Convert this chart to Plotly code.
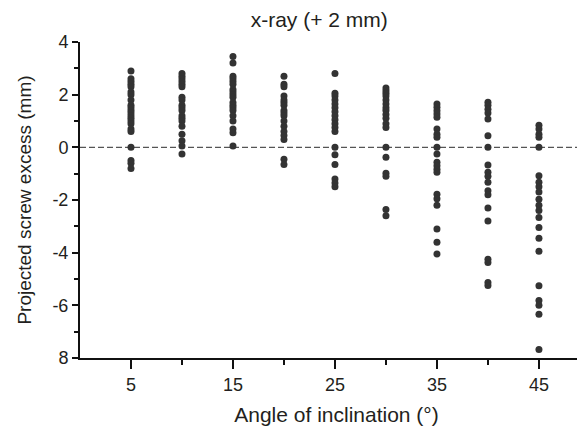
import plotly.graph_objects as go

angles = [5, 10, 15, 20, 25, 30, 35, 40, 45]

excess_5 = [2.9, 2.6, 2.5, 2.4, 2.3, 2.1, 2.0, 1.8, 1.6, 1.5, 1.4, 1.3, 1.2, 1.1, 1.0, 0.9, 0.7, 0.6, 0.0, -0.5, -0.6, -0.8]
excess_10 = [2.8, 2.7, 2.6, 2.5, 2.4, 2.3, 1.9, 1.8, 1.6, 1.5, 1.4, 1.2, 1.1, 1.0, 0.8, 0.5, 0.25, 0.05, -0.25]
excess_15 = [3.45, 3.2, 2.7, 2.6, 2.5, 2.4, 2.2, 2.1, 2.0, 1.9, 1.7, 1.6, 1.5, 1.4, 1.2, 1.0, 0.7, 0.55, 0.05]
excess_20 = [2.7, 2.4, 2.3, 1.95, 1.8, 1.7, 1.6, 1.4, 1.3, 1.2, 1.0, 0.8, 0.6, 0.45, 0.3, -0.45, -0.65]
excess_25 = [2.8, 2.05, 1.95, 1.8, 1.65, 1.5, 1.35, 1.2, 1.05, 0.9, 0.75, 0.6, 0.0, -0.28, -0.65, -1.2, -1.35, -1.5]
excess_30 = [2.25, 2.15, 2.05, 1.95, 1.8, 1.65, 1.5, 1.4, 1.25, 1.1, 0.9, 0.75, 0.0, -0.38, -0.98, -1.1, -2.36, -2.6]
excess_35 = [1.65, 1.52, 1.39, 1.27, 1.14, 0.7, 0.5, 0.38, 0.0, -0.25, -0.57, -0.7, -0.83, -0.95, -1.78, -1.95, -2.2, -3.1, -3.6, -4.05]
excess_40 = [1.71, 1.6, 1.45, 1.3, 1.08, 0.44, 0.0, -0.67, -0.95, -1.1, -1.33, -1.65, -1.8, -2.3, -2.8, -4.25, -4.37, -5.13, -5.25]
excess_45 = [0.84, 0.7, 0.5, 0.38, 0.0, -1.08, -1.33, -1.5, -1.7, -1.97, -2.2, -2.4, -2.66, -3.04, -3.45, -3.95, -5.26, -5.82, -6.0, -6.34, -7.68]

series = [excess_5, excess_10, excess_15, excess_20, excess_25, excess_30, excess_35, excess_40, excess_45]

x_tickvals = [5, 15, 25, 35, 45]
x_ticktext = ["5", "15", "25", "35", "45"]
x_minor = [10, 20, 30, 40]
y_tickvals = [4, 2, 0, -2, -4, -6, -8]
y_ticktext = ["4", "2", "0", "-2", "-4", "-6", "8"]
y_minor = [3, 1, -1, -3, -5, -7]

xs, ys = [], []
for a, vals in zip(angles, series):
    xs += [a] * len(vals)
    ys += vals

fig = go.Figure()
fig.add_trace(go.Scatter(
    x=xs, y=ys, mode="markers",
    marker=dict(size=7, color="#333333", line=dict(width=0)),
    showlegend=False, hoverinfo="skip", cliponaxis=False,
))

fig.add_shape(type="line", xref="x", yref="y", x0=0, x1=50.3, y0=0, y1=0,
              line=dict(color="#555555", width=1.4, dash="6px,3px"), layer="below")

font_family = "Liberation Sans, Arial, sans-serif"
ink = "#231f20"

fig.update_layout(
    width=585, height=426,
    margin=dict(l=72, r=0, t=34, b=76),
    paper_bgcolor="white", plot_bgcolor="white",
    font=dict(family=font_family, size=17, color=ink),
    title=dict(text="x-ray (+ 2 mm)", xref="container", x=0.532, xanchor="center",
               yref="container", y=0.972, yanchor="middle",
               font=dict(size=21, color=ink)),
    xaxis=dict(
        range=[0, 50.3], showgrid=False, zeroline=False,
        showline=True, linecolor="#111111", linewidth=2,
        ticks="outside", ticklen=9, tickwidth=2, tickcolor="#111111",
        tickmode="array", tickvals=x_tickvals, ticktext=x_ticktext,
        minor=dict(tickmode="array", tickvals=x_minor, ticklen=5, tickwidth=2,
                   tickcolor="#111111", ticks="outside", showgrid=False),
        title=dict(text="Angle of inclination (°)", standoff=14, font=dict(size=21)),
        tickfont=dict(size=18),
    ),
    yaxis=dict(
        range=[-8, 4], showgrid=False, zeroline=False,
        showline=True, linecolor="#111111", linewidth=2,
        ticks="outside", ticklen=6, tickwidth=2, tickcolor="#111111",
        tickmode="array", tickvals=y_tickvals, ticktext=y_ticktext,
        minor=dict(tickmode="array", tickvals=y_minor, ticklen=4, tickwidth=2,
                   tickcolor="#111111", ticks="outside", showgrid=False),
        title=dict(text="Projected screw excess (mm)", standoff=16, font=dict(size=19)),
        tickfont=dict(size=18),
    ),
)

fig.write_html("out.html")
